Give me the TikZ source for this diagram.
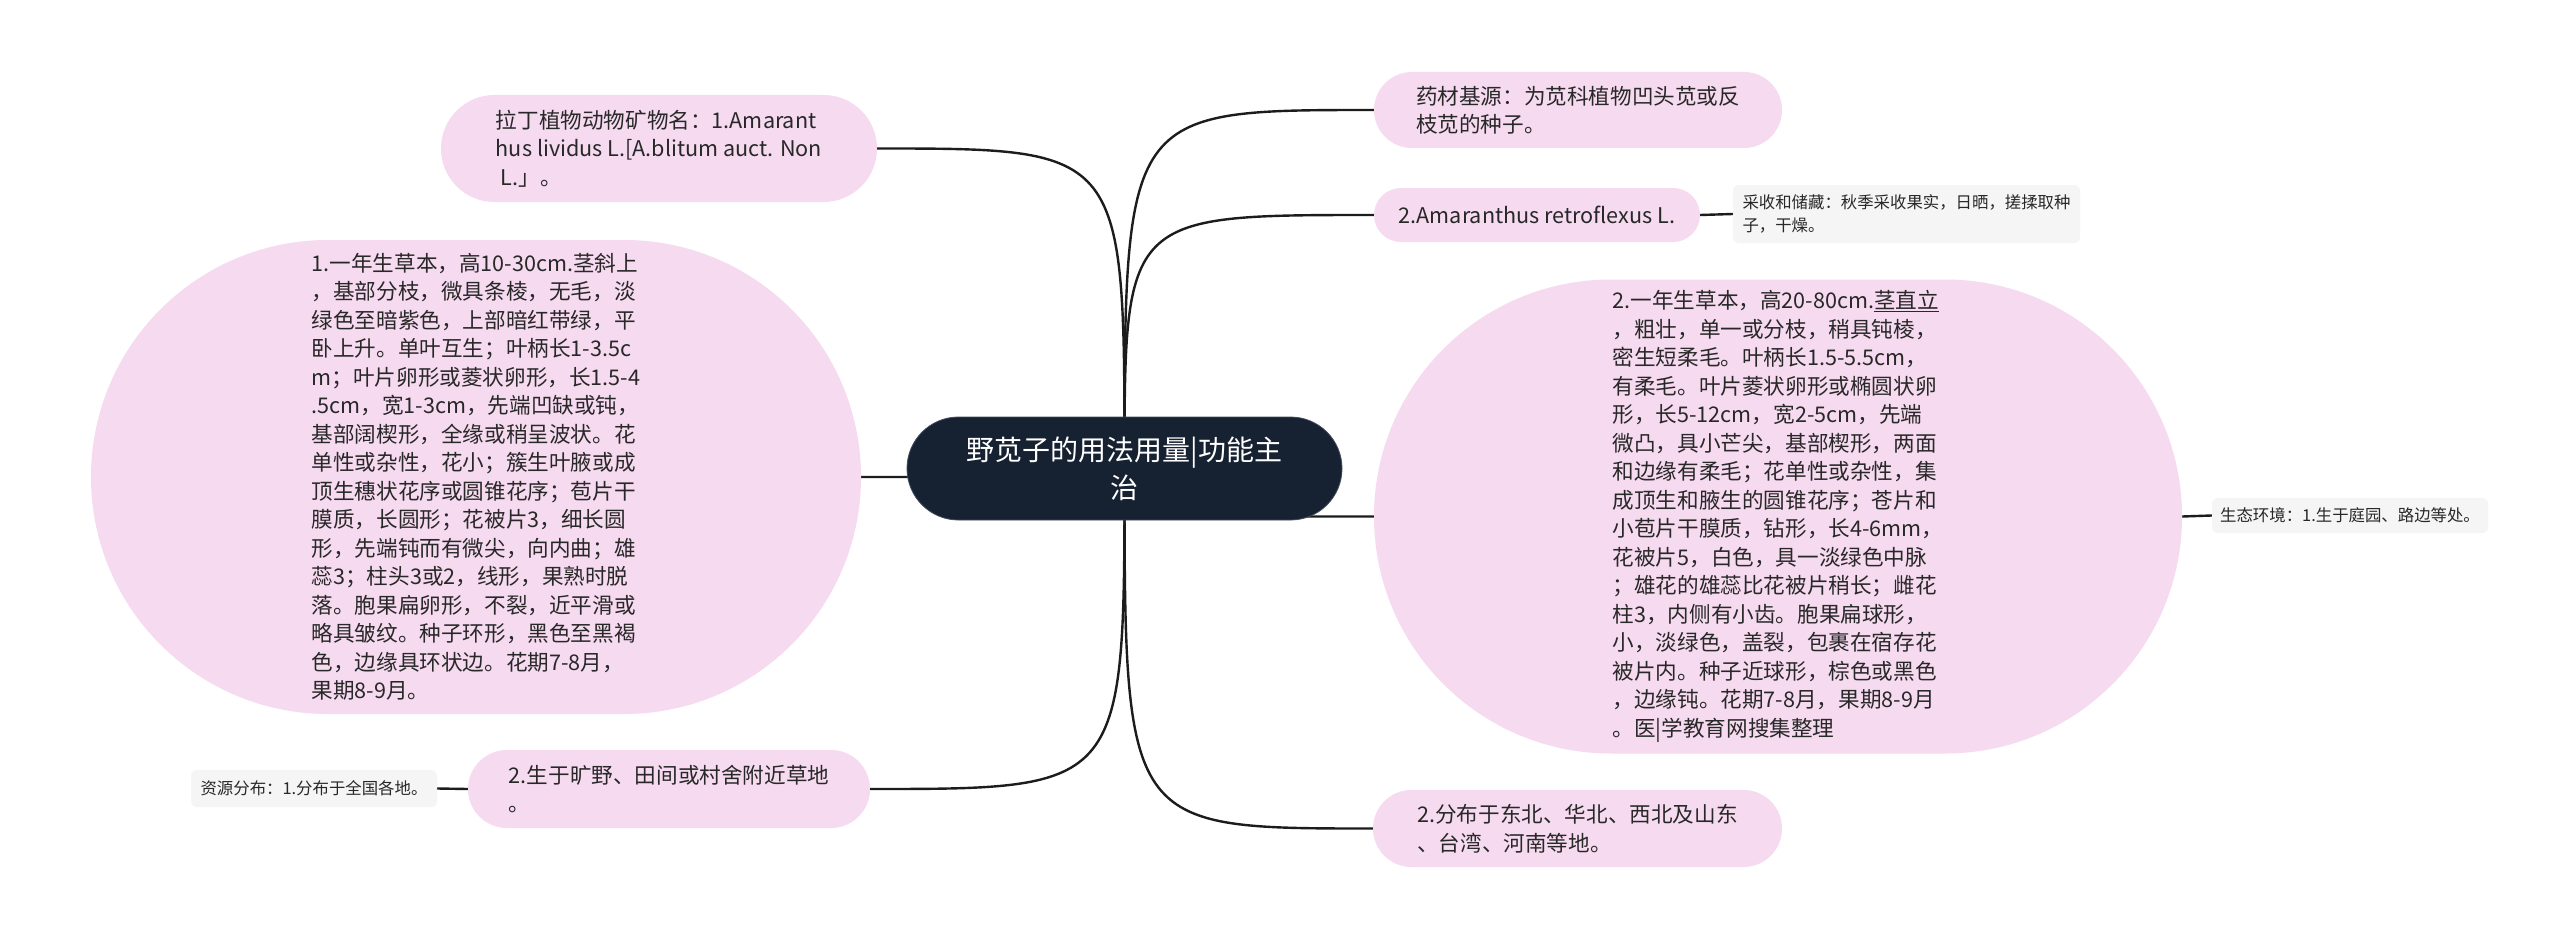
\documentclass[tikz,border=0pt]{standalone}
\usepackage{fontspec}
\newfontfamily\cjk{Noto Sans CJK SC}
\usetikzlibrary{calc}
\definecolor{pinkf}{RGB}{246,218,240}
\definecolor{navy}{RGB}{22,33,50}
\definecolor{leaff}{RGB}{245,245,245}
\definecolor{txt}{RGB}{40,40,40}
\definecolor{lin}{RGB}{28,28,28}
\pgfdeclarelayer{bg}
\pgfsetlayers{bg,main}
\begin{document}
\begin{tikzpicture}[x=1pt,y=-1pt,
  pill/.style n args={3}{rectangle, fill=pinkf, draw=none, inner sep=0pt,
    minimum width=#1pt, minimum height=#2pt, rounded corners=#3pt,
    align=left, text=txt, font=\cjk\fontsize{21.6}{28.5}\selectfont},
  leafbox/.style n args={2}{rectangle, fill=leaff, draw=none, inner sep=0pt,
    minimum width=#1pt, minimum height=#2pt, rounded corners=6pt,
    align=left, text=txt, font=\cjk\fontsize{16.4}{23}\selectfont},
  rootbox/.style={rectangle, fill=navy, draw=navy!80!white, line width=0.8pt,
    inner sep=0pt, minimum width=435pt, minimum height=103pt,
    rounded corners=51.5pt, align=center, text=white,
    font=\cjk\fontsize{28}{38}\selectfont},
  conn/.style={draw=lin, line width=2.4pt, line cap=round}]
\useasboundingbox (0,0) rectangle (2560,939);

\node[rootbox] (c) at (1124.5,468.5) {野苋子的用法用量|功能主\\治};

\node[pill={436}{107}{53.5}] (lat) at (659,148.5)
  {拉丁植物动物矿物名：1.Amarant\\hus lividus L.[A.blitum auct. Non\\\hspace*{5pt}L.」。};

\node[pill={770}{474}{237}] (lb) at (476,477)
  {1.一年生草本，高10-30cm.茎斜上\\
   ，基部分枝，微具条棱，无毛，淡\\
   绿色至暗紫色，上部暗红带绿，平\\
   卧上升。单叶互生；叶柄长1-3.5c\\
   m；叶片卵形或菱状卵形，长1.5-4\\
   .5cm，宽1-3cm，先端凹缺或钝，\\
   基部阔楔形，全缘或稍呈波状。花\\
   单性或杂性，花小；簇生叶腋或成\\
   顶生穗状花序或圆锥花序；苞片干\\
   膜质，长圆形；花被片3，细长圆\\
   形，先端钝而有微尖，向内曲；雄\\
   蕊3；柱头3或2，线形，果熟时脱\\
   落。胞果扁卵形，不裂，近平滑或\\
   略具皱纹。种子环形，黑色至黑褐\\
   色，边缘具环状边。花期7-8月，\\
   果期8-9月。};

\node[pill={402}{78}{39}] (gy) at (669,789)
  {2.生于旷野、田间或村舍附近草地\\。};

\node[leafbox={246}{37}] (res) at (314,788.5) {资源分布：1.分布于全国各地。};

\node[pill={408}{76}{38}] (yc) at (1578,110)
  {药材基源：为苋科植物凹头苋或反\\枝苋的种子。};

\node[pill={326}{54}{27}] (am) at (1537,215) {2.Amaranthus retroflexus L.};

\node[leafbox={347}{58}] (cs) at (1906.5,214)
  {采收和储藏：秋季采收果实，日晒，搓揉取种\\子，干燥。};

\node[pill={808}{474}{237}] (rb) at (1778,516.5)
  {2.一年生草本，高20-80cm.\underline{茎直立}\\
   ，粗壮，单一或分枝，稍具钝棱，\\
   密生短柔毛。叶柄长1.5-5.5cm，\\
   有柔毛。叶片菱状卵形或椭圆状卵\\
   形，长5-12cm，宽2-5cm，先端\\
   微凸，具小芒尖，基部楔形，两面\\
   和边缘有柔毛；花单性或杂性，集\\
   成顶生和腋生的圆锥花序；苍片和\\
   小苞片干膜质，钻形，长4-6mm，\\
   花被片5，白色，具一淡绿色中脉\\
   ；雄花的雄蕊比花被片稍长；雌花\\
   柱3，内侧有小齿。胞果扁球形，\\
   小，淡绿色，盖裂，包裹在宿存花\\
   被片内。种子近球形，棕色或黑色\\
   ，边缘钝。花期7-8月，果期8-9月\\
   。医|学教育网搜集整理};

\node[leafbox={276}{35}] (st) at (2350,515.5) {生态环境：1.生于庭园、路边等处。};

\node[pill={409}{77}{38.5}] (fb) at (1577.5,828.5)
  {2.分布于东北、华北、西北及山东\\、台湾、河南等地。};

\begin{pgfonlayer}{bg}
  \fill[white] (0,0) rectangle (2560,939);
  \draw[conn] (c.center) .. controls (c.center |- lat.east) .. (lat.east);
  \draw[conn] (c.center) .. controls (c.center |- lb.east) .. (lb.east);
  \draw[conn] (c.center) .. controls (c.center |- gy.east) .. (gy.east);
  \draw[conn] (c.center) .. controls (c.center |- yc.west) .. (yc.west);
  \draw[conn] (c.center) .. controls (c.center |- am.west) .. (am.west);
  \draw[conn] (c.center) .. controls (c.center |- rb.west) .. (rb.west);
  \draw[conn] (c.center) .. controls (c.center |- fb.west) .. (fb.west);
  \draw[conn] (am.east) -- (cs.west);
  \draw[conn] (rb.east) -- (st.west);
  \draw[conn] (gy.west) -- (res.east);
\end{pgfonlayer}
\end{tikzpicture}
\end{document}
